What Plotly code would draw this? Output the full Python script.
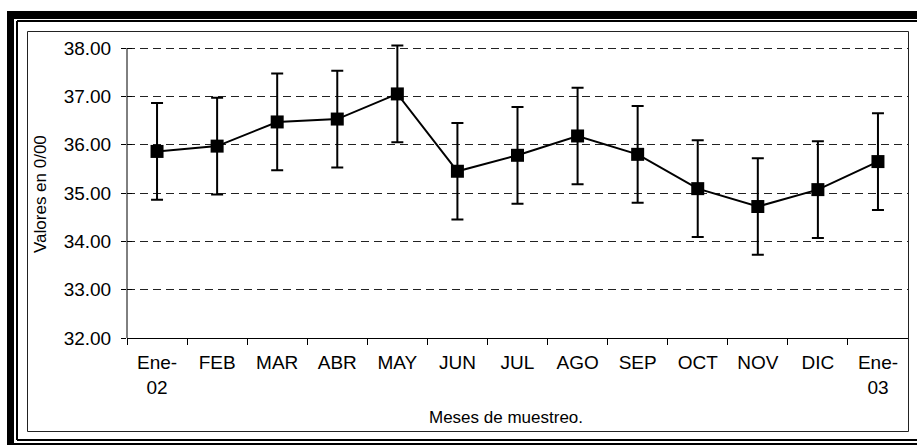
import plotly.graph_objects as go

months = ["Ene-<br>02", "FEB", "MAR", "ABR", "MAY", "JUN", "JUL", "AGO", "SEP", "OCT", "NOV", "DIC", "Ene-<br>03"]
values = [35.86, 35.97, 36.47, 36.53, 37.05, 35.45, 35.78, 36.18, 35.80, 35.09, 34.72, 35.07, 35.65]
errors = [1.0, 1.0, 1.0, 1.0, 1.0, 1.0, 1.0, 1.0, 1.0, 1.0, 1.0, 1.0, 1.0]
y_ticks = [32, 33, 34, 35, 36, 37, 38]

W, H = 917, 445
L, R, T, B = 127, 908, 43, 338
PPU = 290 / 6.0
Y_MIN = y_ticks[0]
Y_TOP = Y_MIN + (B - T) / PPU

def px(x):
    return (x - L) / (R - L)

def py(y):
    return (B - y) / (B - T)

FONT = "Liberation Sans, Arial, sans-serif"

fig = go.Figure()
fig.add_trace(go.Scatter(
    x=months, y=values, mode="lines+markers",
    line=dict(color="black", width=2),
    marker=dict(symbol="square", size=13, color="black"),
    error_y=dict(type="data", array=errors, visible=True, color="black", thickness=2, width=6),
    showlegend=False, cliponaxis=False,
))
# invisible trace for overlay axis with inside ticks
fig.add_trace(go.Scatter(x=[months[0]], y=[values[0]], yaxis="y2", mode="markers",
                         marker=dict(opacity=0), showlegend=False, hoverinfo="skip"))

shapes = []
# thick outer border (top & left)
shapes.append(dict(type="rect", xref="paper", yref="paper", x0=px(7), x1=px(920), y0=py(19), y1=py(11),
                   fillcolor="black", line=dict(width=0), layer="above"))
shapes.append(dict(type="rect", xref="paper", yref="paper", x0=px(7), x1=px(14), y0=py(450), y1=py(11),
                   fillcolor="black", line=dict(width=0), layer="above"))
# bottom outer line
shapes.append(dict(type="rect", xref="paper", yref="paper", x0=px(7), x1=px(920), y0=py(450), y1=py(443),
                   fillcolor="black", line=dict(width=0), layer="above"))
# thin inner double line
shapes.append(dict(type="line", xref="paper", yref="paper", x0=px(17), x1=px(920), y0=py(21), y1=py(21),
                   line=dict(color="black", width=2)))
shapes.append(dict(type="line", xref="paper", yref="paper", x0=px(17), x1=px(17), y0=py(21), y1=py(440),
                   line=dict(color="black", width=2)))
shapes.append(dict(type="line", xref="paper", yref="paper", x0=px(17), x1=px(920), y0=py(440), y1=py(440),
                   line=dict(color="black", width=2)))
# chart area rectangle
shapes.append(dict(type="rect", xref="paper", yref="paper", x0=px(27.5), x1=px(908.5), y0=py(431.5), y1=py(31.5),
                   line=dict(color="#222", width=1), fillcolor="rgba(0,0,0,0)"))
# y axis line (from bottom to top tick only)
shapes.append(dict(type="line", xref="paper", yref="y", x0=0, x1=0, y0=y_ticks[0], y1=y_ticks[-1],
                   line=dict(color="black", width=1), layer="above"))

fig.update_layout(
    width=W, height=H,
    margin=dict(l=L, r=W - R, t=T, b=H - B),
    paper_bgcolor="white", plot_bgcolor="white",
    font=dict(family=FONT, size=19, color="black"),
    shapes=shapes,
    xaxis=dict(
        type="category", tickson="boundaries", ticks="outside", ticklen=6, tickcolor="black",
        showline=True, linecolor="black", linewidth=1, showgrid=False, zeroline=False,
        tickfont=dict(size=19), ticklabelstandoff=7,
        range=[-0.5, len(months) - 0.5],
    ),
    yaxis=dict(
        range=[Y_MIN, Y_TOP], tickvals=y_ticks, tickformat=".2f",
        ticks="outside", ticklen=5, tickcolor="black",
        showline=False,
        showgrid=True, gridcolor="#222", gridwidth=1, griddash="8px,5px",
        zeroline=False, tickfont=dict(size=19), ticklabelstandoff=6,
    ),
    yaxis2=dict(
        range=[Y_MIN, Y_TOP], tickvals=y_ticks, overlaying="y", side="left",
        ticks="inside", ticklen=5, tickcolor="black", showticklabels=False,
        showgrid=False, zeroline=False, showline=False,
    ),
    annotations=[
        dict(text="Valores en 0/00", xref="paper", yref="paper", x=px(41), y=py(194),
             textangle=-90, showarrow=False, font=dict(size=17), xanchor="center", yanchor="middle"),
        dict(text="Meses de muestreo.", xref="paper", yref="paper", x=px(506), y=py(417),
             showarrow=False, font=dict(size=17), xanchor="center", yanchor="middle"),
    ],
)

fig.write_html("out.html")
